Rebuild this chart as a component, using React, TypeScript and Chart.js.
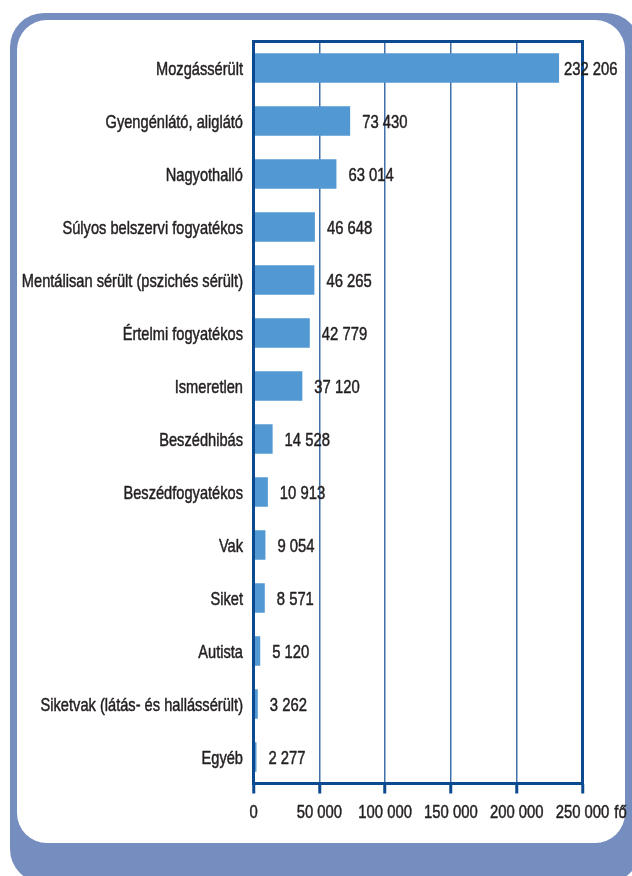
import React, { useEffect, useRef } from "react";
import { Chart, registerables } from "chart.js";

Chart.register(...registerables);

const categories = [
  "Mozgássérült",
  "Gyengénlátó, aliglátó",
  "Nagyothalló",
  "Súlyos belszervi fogyatékos",
  "Mentálisan sérült (pszichés sérült)",
  "Értelmi fogyatékos",
  "Ismeretlen",
  "Beszédhibás",
  "Beszédfogyatékos",
  "Vak",
  "Siket",
  "Autista",
  "Siketvak (látás- és hallássérült)",
  "Egyéb",
];

const values = [232206, 73430, 63014, 46648, 46265, 42779, 37120, 14528, 10913, 9054, 8571, 5120, 3262, 2277];

const axisMin = 0;
const axisMax = 250000;
const axisStep = 50000;
const unitLabel = "fő";

const FONT = '"Liberation Sans", Arial, sans-serif';
const FONT_SIZE = 19;
const SQUEEZE_LABEL = 0.77;
const SQUEEZE_NUM = 0.78;
const TEXT = "#231f20";
const FRAME = "#0b4a8e";
const GRID = "#3f70a8";
const BAR = "#5298d3";
const BG_BLUE = "#768ebf";

const fmt = (v: number) => String(v).replace(/\B(?=(\d{3})+(?!\d))/g, " ");

function drawText(
  ctx: CanvasRenderingContext2D,
  text: string,
  x: number,
  y: number,
  align: CanvasTextAlign,
  k: number
) {
  ctx.save();
  ctx.translate(x, y);
  ctx.scale(k, 1);
  ctx.textAlign = align;
  ctx.textBaseline = "alphabetic";
  ctx.lineWidth = 0.5;
  ctx.strokeStyle = TEXT;
  ctx.lineJoin = "round";
  ctx.strokeText(text, 0, 0);
  ctx.fillText(text, 0, 0);
  ctx.restore();
}

const framePlugin = {
  id: "frameAndLabels",
  afterDatasetsDraw(chart: any) {
    const { ctx, chartArea } = chart;
    const { left, right, top, bottom } = chartArea;
    ctx.save();
    ctx.strokeStyle = FRAME;
    ctx.lineWidth = 3;
    ctx.strokeRect(left, top, right - left, bottom - top);

    ctx.font = `${FONT_SIZE}px ${FONT}`;
    ctx.fillStyle = TEXT;

    const meta = chart.getDatasetMeta(0);
    const yScale = chart.scales.y;
    categories.forEach((c, i) => {
      const yc = yScale.getPixelForValue(i);
      drawText(ctx, c, left - 10.5, yc + 7, "right", SQUEEZE_LABEL);
    });

    meta.data.forEach((bar: any, i: number) => {
      const label = fmt(values[i]);
      const w = ctx.measureText(label).width * SQUEEZE_NUM;
      const x = Math.min(bar.x + 12, right + 35 - w);
      drawText(ctx, label, x, bar.y + 7, "left", SQUEEZE_NUM);
    });

    const xScale = chart.scales.x;
    for (let v = axisMin; v <= axisMax; v += axisStep) {
      const px = xScale.getPixelForValue(v);
      drawText(ctx, fmt(v), px, bottom + 34.5, "center", SQUEEZE_NUM);
    }
    const lastX = xScale.getPixelForValue(axisMax);
    const lastW = ctx.measureText(fmt(axisMax)).width * SQUEEZE_NUM;
    drawText(ctx, unitLabel, lastX + lastW / 2 + 5, bottom + 34.5, "left", SQUEEZE_NUM);
    ctx.restore();
  },
};

export default function App() {
  const ref = useRef<HTMLCanvasElement | null>(null);

  useEffect(() => {
    if (!ref.current) return;
    const chart = new Chart(ref.current, {
      type: "bar",
      data: {
        labels: categories,
        datasets: [
          {
            data: values,
            backgroundColor: BAR,
            borderWidth: 0,
            categoryPercentage: 1,
            barPercentage: 0.56,
          },
        ],
      },
      options: {
        indexAxis: "y",
        responsive: false,
        animation: false,
        devicePixelRatio: 1,
        layout: { padding: { top: 41.5, right: 49.5, bottom: 0, left: 0 } },
        plugins: {
          legend: { display: false },
          tooltip: { enabled: false },
        },
        scales: {
          x: {
            min: axisMin,
            max: axisMax,
            afterFit: (s: any) => {
              s.height = 92.5;
            },
            border: { display: false },
            grid: {
              color: GRID,
              lineWidth: 1.5,
              drawTicks: true,
              tickLength: 10,
              tickColor: FRAME,
              tickWidth: 3,
            },
            ticks: {
              stepSize: axisStep,
              autoSkip: false,
              display: false,
              maxRotation: 0,
            },
          },
          y: {
            afterFit: (s: any) => {
              s.width = 253.5;
            },
            border: { display: false },
            grid: { display: false, drawTicks: false },
            ticks: { display: false, autoSkip: false },
          },
        },
      },
      plugins: [framePlugin],
    });
    return () => chart.destroy();
  }, []);

  return (
    <div
      style={{
        position: "fixed",
        left: 0,
        top: 0,
        width: 632,
        height: 876,
        overflow: "hidden",
        background: "#ffffff",
      }}
    >
      <div
        style={{
          position: "absolute",
          left: 10,
          top: 13,
          width: 630,
          height: 870,
          borderRadius: 34,
          background: BG_BLUE,
        }}
      />
      <div
        style={{
          position: "absolute",
          left: 17,
          top: 20,
          width: 608,
          height: 823,
          borderRadius: 30,
          background: "#ffffff",
        }}
      />
      <canvas
        ref={ref}
        width={632}
        height={876}
        style={{ position: "absolute", left: 0, top: 0, width: 632, height: 876 }}
      />
    </div>
  );
}
